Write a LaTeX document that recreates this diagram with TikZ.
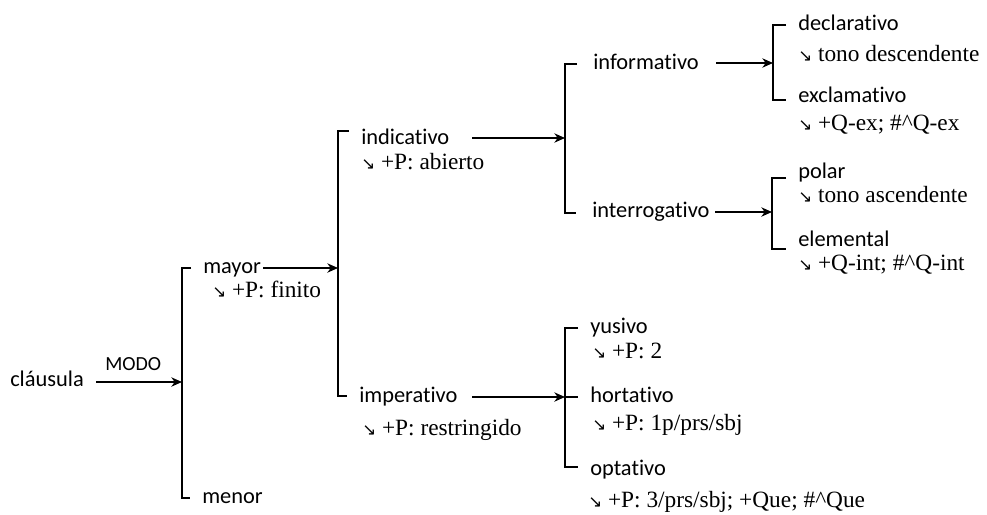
\documentclass[tikz,border=0pt]{standalone}
\usepackage{fontspec}
\newfontfamily\sansf[Ligatures=NoCommon]{Carlito}
\newfontfamily\seriff{Liberation Serif}
\newfontfamily\symf{DejaVu Sans}
\usetikzlibrary{arrows.meta}
\newcommand\dn{{\symf\fontsize{12.5}{12}\selectfont ↘}~}
\begin{document}
\begin{tikzpicture}[x=0.75pt,y=-0.75pt,
  lab/.style={anchor=base west, inner sep=0pt, font=\sansf\fontsize{16.8}{20}\selectfont},
  modo/.style={anchor=base west, inner sep=0pt, font=\sansf\fontsize{15}{18}\selectfont},
  feat/.style={anchor=base west, inner sep=0pt, font=\seriff\fontsize{17.5}{20}\selectfont},
  br/.style={line width=1pt},
  arr/.style={line width=1pt, -{Stealth[length=8pt,width=7pt,inset=2.5pt]}}]
\useasboundingbox (0,0) rectangle (987,514);

% bracket coordinates
\coordinate (b1t) at (182,268); \coordinate (b1b) at (182,498); \coordinate (b1m) at (182,382);
\coordinate (b2t) at (338,131); \coordinate (b2b) at (338,396); \coordinate (b2m) at (338,268);
\coordinate (b3t) at (565,64);  \coordinate (b3b) at (565,213); \coordinate (b3m) at (565,138);
\coordinate (b4t) at (773,25);  \coordinate (b4b) at (773,100); \coordinate (b4m) at (773,63);
\coordinate (b5t) at (772,178); \coordinate (b5b) at (772,249); \coordinate (b5m) at (772,212);
\coordinate (b6t) at (565,328); \coordinate (b6b) at (565,467); \coordinate (b6m) at (565,397);

% labels
\node[lab] (clausula) at (10,386) {cláusula};
\node[modo] (modo) at (105,370) {MODO};
\node[lab] (mayor) at (203,273) {mayor};
\node[feat] (finito) at (212,297) {\dn+P: finito};
\node[lab] (menor) at (202,503) {menor};
\node[lab] (indicativo) at (361,144) {indicativo};
\node[feat] (abierto) at (361,169) {\dn+P: abierto};
\node[lab] (imperativo) at (359,402) {imperativo};
\node[feat] (restr) at (362,435) {\dn+P: restringido};
\node[lab] (informativo) at (593,69) {informativo};
\node[lab] (interrogativo) at (592,217) {interrogativo};
\node[lab] (declarativo) at (798,30) {declarativo};
\node[feat] (desc) at (798,61) {\dn tono descendente};
\node[lab] (exclamativo) at (798,102) {exclamativo};
\node[feat] (qex) at (798,130) {\dn+Q-ex; \#\textasciicircum Q-ex};
\node[lab] (polar) at (798,178) {polar};
\node[feat] (asc) at (798,202) {\dn tono ascendente};
\node[lab] (elemental) at (798,246) {elemental};
\node[feat] (qint) at (798,270) {\dn+Q-int; \#\textasciicircum Q-int};
\node[lab] (yusivo) at (590,333) {yusivo};
\node[feat] (p2) at (592,358) {\dn+P: 2};
\node[lab] (hortativo) at (590,402) {hortativo};
\node[feat] (p1) at (592,430) {\dn+P: 1p/prs/sbj};
\node[lab] (optativo) at (590,475) {optativo};
\node[feat] (p3) at (588,507) {\dn+P: 3/prs/sbj; +Que; \#\textasciicircum Que};

% brackets
\draw[br] ([xshift=-9pt]mayor.west |- b1t) -- (b1t) -- (b1b) -- ([xshift=-9pt]menor.west |- b1b);
\draw[br] ([xshift=-9pt]indicativo.west |- b2t) -- (b2t) -- (b2b) -- ([xshift=-9pt]imperativo.west |- b2b);
\draw[br] ([xshift=-12pt]informativo.west |- b3t) -- (b3t) -- (b3b) -- ([xshift=-12pt]interrogativo.west |- b3b);
\draw[br] ([xshift=-9pt]declarativo.west |- b4t) -- (b4t) -- (b4b) -- ([xshift=-9pt]exclamativo.west |- b4b);
\draw[br] ([xshift=-9pt]polar.west |- b5t) -- (b5t) -- (b5b) -- ([xshift=-9pt]elemental.west |- b5b);
\draw[br] ([xshift=-9pt]yusivo.west |- b6t) -- (b6t) -- (b6b) -- ([xshift=-9pt]optativo.west |- b6b);
\draw[br] (b6m) -- ([xshift=-9pt]hortativo.west |- b6m);

% arrows
\draw[arr, shorten <=9pt] (clausula.east |- b1m) -- (b1m);
\draw[arr, shorten <=1.5pt] (mayor.east |- b2m) -- (b2m);
\draw[arr, shorten <=17pt] (indicativo.east |- b3m) -- (b3m);
\draw[arr, shorten <=11pt] (imperativo.east |- b6m) -- (b6m);
\draw[arr, shorten <=13pt] (informativo.east |- b4m) -- (b4m);
\draw[arr, shorten <=4pt] (interrogativo.east |- b5m) -- (b5m);
\end{tikzpicture}
\end{document}
